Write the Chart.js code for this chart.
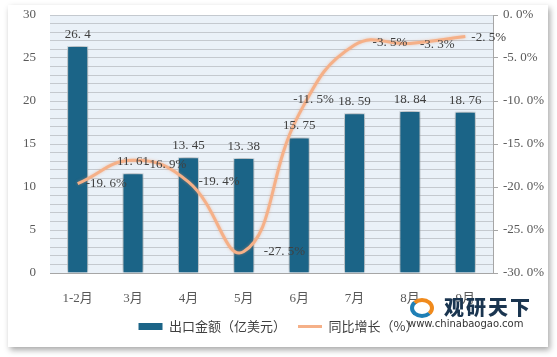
<!DOCTYPE html>
<html lang="zh">
<head>
  <meta charset="UTF-8" />
  <title>出口金额及同比增长</title>
  <script src="https://cdn.jsdelivr.net/npm/chart.js"></script>
  <style>
    body {
      margin: 0;
      background: #ffffff;
    }
    .card {
      position: absolute;
      left: 8px;
      top: 5px;
      width: 540px;
      height: 342px;
      background: #fff;
      box-shadow: 2px 3px 6px rgba(0,0,0,0.35);
    }
    .wrap {
      position: absolute;
      left: 0;
      top: 0;
      width: 557px;
      height: 357px;
    }
    .mark {
      position: absolute;
      left: 408px;
      top: 296px;
      font-family: "Noto Sans CJK SC", sans-serif;
      color: #1a3550;
      pointer-events: none;
    }
    .mark .name { font-size: 20px; font-weight: 900; margin-left: 36px; letter-spacing: 2px; line-height: 22px; }
    .mark .url { font-family: "DejaVu Sans", sans-serif; font-size: 10px; color: #333; line-height: 12px; }
    .mark .logo { position: absolute; left: 2px; top: 2px; width: 24px; height: 20px; border-radius: 50%;
      border: 4px solid #f08a1c; border-left-color: #1f7fb5; border-bottom-color: #1f7fb5; box-sizing: border-box; }
  </style>
</head>
<body>
  <div class="card"></div>
  <div class="wrap"><canvas id="chart" width="557" height="357"></canvas></div>
  <div class="mark"><div class="logo"></div><div class="name">观研天下</div><div class="url">www.chinabaogao.com</div></div>

  <script>
    const months = ['1-2月', '3月', '4月', '5月', '6月', '7月', '8月', '9月'];
    const exportValue = [26.4, 11.61, 13.45, 13.38, 15.75, 18.59, 18.84, 18.76];
    const yoyGrowth = [-19.6, -16.9, -19.4, -27.5, -11.5, -3.5, -3.3, -2.5];
    const barLabel = '出口金额（亿美元）';
    const lineLabel = '同比增长（%）';

    const tealColor = '#1b6487';
    const orangeColor = '#f5b088';
    const tickFont = { family: "'Liberation Serif', 'Noto Sans CJK SC', serif", size: 13 };

    // label nudges for the growth labels (px), Excel placed most to the right
    const growthNudge = [[8, 0], [12, 4], [10, 0], [20, 0], [-6, -14], [18, -3], [10, 1], [6, 1]];

    const bgPlugin = {
      id: 'plotBg',
      beforeDraw(chart) {
        const { ctx, chartArea: a } = chart;
        ctx.save();
        ctx.fillStyle = '#eaf1f8';
        ctx.fillRect(a.left, a.top, a.right - a.left, a.bottom - a.top);
        ctx.restore();
      },
      beforeDatasetDraw(chart, args) {
        const ctx = chart.ctx;
        ctx.save();
        if (args.index === 0) {
          ctx.shadowColor = 'rgba(0,0,0,0.45)';
          ctx.shadowBlur = 7;
          ctx.shadowOffsetX = 0;
          ctx.shadowOffsetY = 0;
        } else {
          ctx.shadowColor = 'rgba(240,150,100,0.5)';
          ctx.shadowBlur = 3;
        }
      },
      afterDatasetDraw(chart) {
        chart.ctx.restore();
      },
      afterDatasetsDraw(chart) {
        const ctx = chart.ctx;
        ctx.save();
        ctx.font = "13px 'Liberation Serif', serif";
        ctx.fillStyle = '#404040';
        const bars = chart.getDatasetMeta(0).data;
        ctx.textAlign = 'center';
        ctx.textBaseline = 'bottom';
        bars.forEach((b, i) => {
          ctx.fillText(String(exportValue[i]).replace('.', '. '), b.x, b.y - 5);
        });
        const pts = chart.getDatasetMeta(1).data;
        ctx.textAlign = 'left';
        ctx.textBaseline = 'middle';
        pts.forEach((p, i) => {
          const n = growthNudge[i];
          ctx.fillText(yoyGrowth[i].toFixed(1).replace('.', '. ') + '%', p.x + n[0], p.y + n[1]);
        });
        ctx.restore();
      }
    };

    new Chart(document.getElementById('chart'), {
      data: {
        labels: months,
        datasets: [
          {
            type: 'bar',
            label: barLabel,
            data: exportValue,
            backgroundColor: tealColor,
            borderColor: '#e4eef4',
            borderWidth: 1,
            categoryPercentage: 1,
            barPercentage: 0.38,
            yAxisID: 'y',
            order: 2
          },
          {
            type: 'line',
            label: lineLabel,
            data: yoyGrowth,
            borderColor: orangeColor,
            borderWidth: 3,
            pointRadius: 0,
            tension: 0.45,
            fill: false,
            yAxisID: 'y1',
            order: 1
          }
        ]
      },
      plugins: [bgPlugin],
      options: {
        animation: false,
        responsive: false,
        layout: { padding: { top: 15, bottom: 14, left: 0, right: 0 } },
        plugins: {
          tooltip: { enabled: false },
          legend: {
            position: 'bottom',
            labels: {
              usePointStyle: true,
              pointStyleWidth: 24,
              boxHeight: 7,
              padding: 12,
              color: '#404040',
              font: { family: "'Noto Sans CJK SC', sans-serif", size: 13 },
              generateLabels() {
                return [
                  { text: barLabel, fillStyle: tealColor, strokeStyle: tealColor, lineWidth: 0, pointStyle: 'rect', datasetIndex: 0, fontColor: '#404040' },
                  { text: lineLabel, fillStyle: orangeColor, strokeStyle: orangeColor, lineWidth: 3, pointStyle: 'line', datasetIndex: 1, fontColor: '#404040' }
                ];
              }
            }
          }
        },
        scales: {
          x: {
            grid: { display: false },
            border: { color: '#a6a6a6', width: 1 },
            ticks: { color: '#595959', font: tickFont, padding: 10 },
            afterFit(s) { s.height = 35; s.paddingTop = 0; }
          },
          y: {
            position: 'left',
            min: 0,
            max: 30,
            ticks: {
              stepSize: 1,
              autoSkip: false,
              color: '#595959',
              font: tickFont,
              padding: 14,
              callback: v => (v % 5 === 0 ? v : '')
            },
            grid: { color: '#c4c9cf', lineWidth: 1, drawTicks: false },
            border: { display: false },
            afterFit(s) { s.width = 50; s.paddingTop = 0; }
          },
          y1: {
            position: 'right',
            min: -30,
            max: 0,
            ticks: {
              stepSize: 5,
              color: '#595959',
              font: tickFont,
              padding: 5,
              callback: v => v.toFixed(1).replace('.', '. ') + '%'
            },
            grid: { drawOnChartArea: false, tickLength: 5, color: '#a6a6a6' },
            border: { color: '#a6a6a6', width: 1 },
            afterFit(s) { s.width = 64; s.paddingTop = 0; }
          }
        }
      }
    });
  </script>
</body>
</html>
